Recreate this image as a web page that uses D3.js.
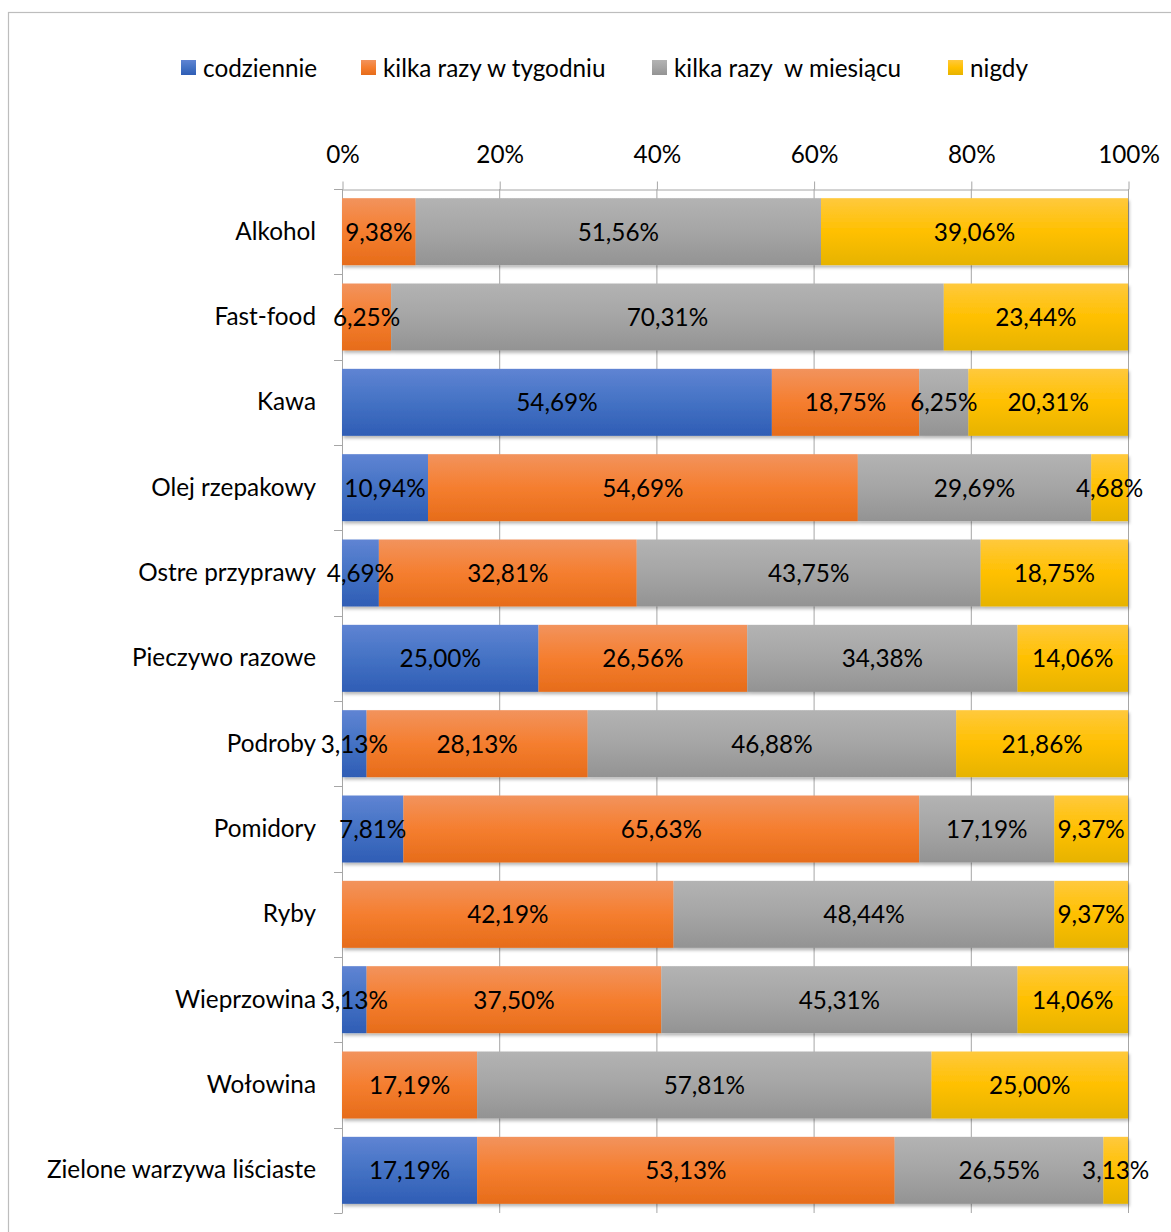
<!DOCTYPE html>
<html><head><meta charset="utf-8">
<script src="https://cdn.jsdelivr.net/npm/d3@7"></script>
<style>body{margin:0;background:#fff}svg{display:block}text{font-family:Lato,"Open Sans",sans-serif;fill:#000}</style>
</head><body>
<svg id="c" width="1171" height="1232"></svg>
<script>
const categories = ["Alkohol","Fast-food","Kawa","Olej rzepakowy","Ostre przyprawy","Pieczywo razowe","Podroby","Pomidory","Ryby","Wieprzowina","Wołowina","Zielone warzywa liściaste"];
const seriesNames = ["codziennie","kilka razy w tygodniu","kilka razy  w miesiącu","nigdy"];
const codziennie = [0,0,54.69,10.94,4.69,25.00,3.13,7.81,0,3.13,0,17.19];
const tygodniu = [9.38,6.25,18.75,54.69,32.81,26.56,28.13,65.63,42.19,37.50,17.19,53.13];
const miesiacu = [51.56,70.31,6.25,29.69,43.75,34.38,46.88,17.19,48.44,45.31,57.81,26.55];
const nigdy = [39.06,23.44,20.31,4.68,18.75,14.06,21.86,9.37,9.37,14.06,25.00,3.13];
const tickValues = [0,20,40,60,80,100];

const FS = 24.3;
const seriesData = [codziennie,tygodniu,miesiacu,nigdy];
const grads = [
  ["#5f84d3","#4472c4","#2f5db5"],
  ["#f2935d","#f57e2f","#e66c1a"],
  ["#b3b3b3","#a5a5a5","#939393"],
  ["#ffc93d","#ffc000","#e6b300"]
];
const svg = d3.select("#c");
const defs = svg.append("defs");
grads.forEach((g,i)=>{
  const lg = defs.append("linearGradient").attr("id","g"+i).attr("x1",0).attr("y1",0).attr("x2",0).attr("y2",1);
  lg.append("stop").attr("offset","0%").attr("stop-color",g[0]);
  lg.append("stop").attr("offset","50%").attr("stop-color",g[1]);
  lg.append("stop").attr("offset","100%").attr("stop-color",g[2]);
});
const f = defs.append("filter").attr("id","sh").attr("x","-5%").attr("y","-10%").attr("width","110%").attr("height","130%");
f.append("feDropShadow").attr("dx",1.5).attr("dy",2.5).attr("stdDeviation",1.8).attr("flood-color","#000").attr("flood-opacity",0.28);

// chart border
svg.append("rect").attr("x",8.5).attr("y",12.5).attr("width",1180).attr("height",1240).attr("fill","none").attr("stroke","#bdbdbd").attr("stroke-width",1.2);

const x = d3.scaleLinear().domain([0,100]).range([342,1128]);
const y = d3.scaleBand().domain(categories).range([189,1213]).paddingInner(0.215).paddingOuter(0.1075);

// gridlines
svg.append("g").selectAll("line").data(tickValues.slice(1)).join("line")
  .attr("x1",d=>x(d)+0.5).attr("x2",d=>x(d)+0.5).attr("y1",189).attr("y2",1213)
  .attr("stroke","#a6a6a6").attr("stroke-width",1);

// top axis
const xAxis = d3.axisTop(x).tickValues(tickValues).tickFormat(d=>d+"%").tickSize(8).tickSizeOuter(0);
const gx = svg.append("g").attr("transform","translate(0.5,189.5)").call(xAxis);
gx.select(".domain").attr("stroke","#a6a6a6");
gx.selectAll(".tick line").attr("stroke","#a6a6a6");
gx.selectAll(".tick text").attr("font-size",FS).attr("dy","0").attr("y",-27).style("font-family","Lato,sans-serif");

// y axis line + ticks at category boundaries
const step = y.step();
const bounds = d3.range(categories.length+1).map(i=>189+i*step);
svg.append("line").attr("x1",342.5).attr("x2",342.5).attr("y1",189).attr("y2",1213).attr("stroke","#a6a6a6");
svg.append("g").selectAll("line").data(bounds).join("line")
  .attr("x1",334).attr("x2",342.5).attr("y1",d=>Math.round(d)+0.5).attr("y2",d=>Math.round(d)+0.5).attr("stroke","#a6a6a6");

// category labels
svg.append("g").selectAll("text").data(categories).join("text")
  .attr("x",316).attr("y",d=>y(d)+y.bandwidth()/2+8).attr("text-anchor","end").attr("font-size",FS).text(d=>d);

// stacked bars
const rows = categories.map((c,i)=>({cat:c,vals:seriesData.map(s=>s[i])}));
const segs = [];
rows.forEach(r=>{let acc=0;r.vals.forEach((v,si)=>{segs.push({cat:r.cat,si,x0:acc,x1:acc+v,v});acc+=v;});});
const barsG = svg.append("g");
rows.forEach(r=>{
  const g = barsG.append("g").attr("filter","url(#sh)");
  g.selectAll("rect").data(segs.filter(s=>s.cat===r.cat && s.v>0)).join("rect")
    .attr("x",d=>x(d.x0)).attr("width",d=>x(d.x1)-x(d.x0))
    .attr("y",d=>y(d.cat)).attr("height",y.bandwidth())
    .attr("fill",d=>"url(#g"+d.si+")");
});
// labels
svg.append("g").selectAll("text").data(segs.filter(s=>s.v>0)).join("text")
  .attr("x",d=>(x(d.x0)+x(d.x1))/2).attr("y",d=>y(d.cat)+y.bandwidth()/2+9)
  .attr("text-anchor","middle").attr("font-size",FS)
  .text(d=>d.v.toFixed(2).replace(".",",")+"%");

// legend
const legX = [181,361,652,948];
const lg = svg.append("g");
seriesNames.forEach((n,i)=>{
  lg.append("rect").attr("x",legX[i]).attr("y",60).attr("width",15).attr("height",15).attr("fill","url(#g"+i+")");
  lg.append("text").attr("x",legX[i]+22).attr("y",77).attr("font-size",FS).style("white-space","pre").text(n);
});
</script>
</body></html>
